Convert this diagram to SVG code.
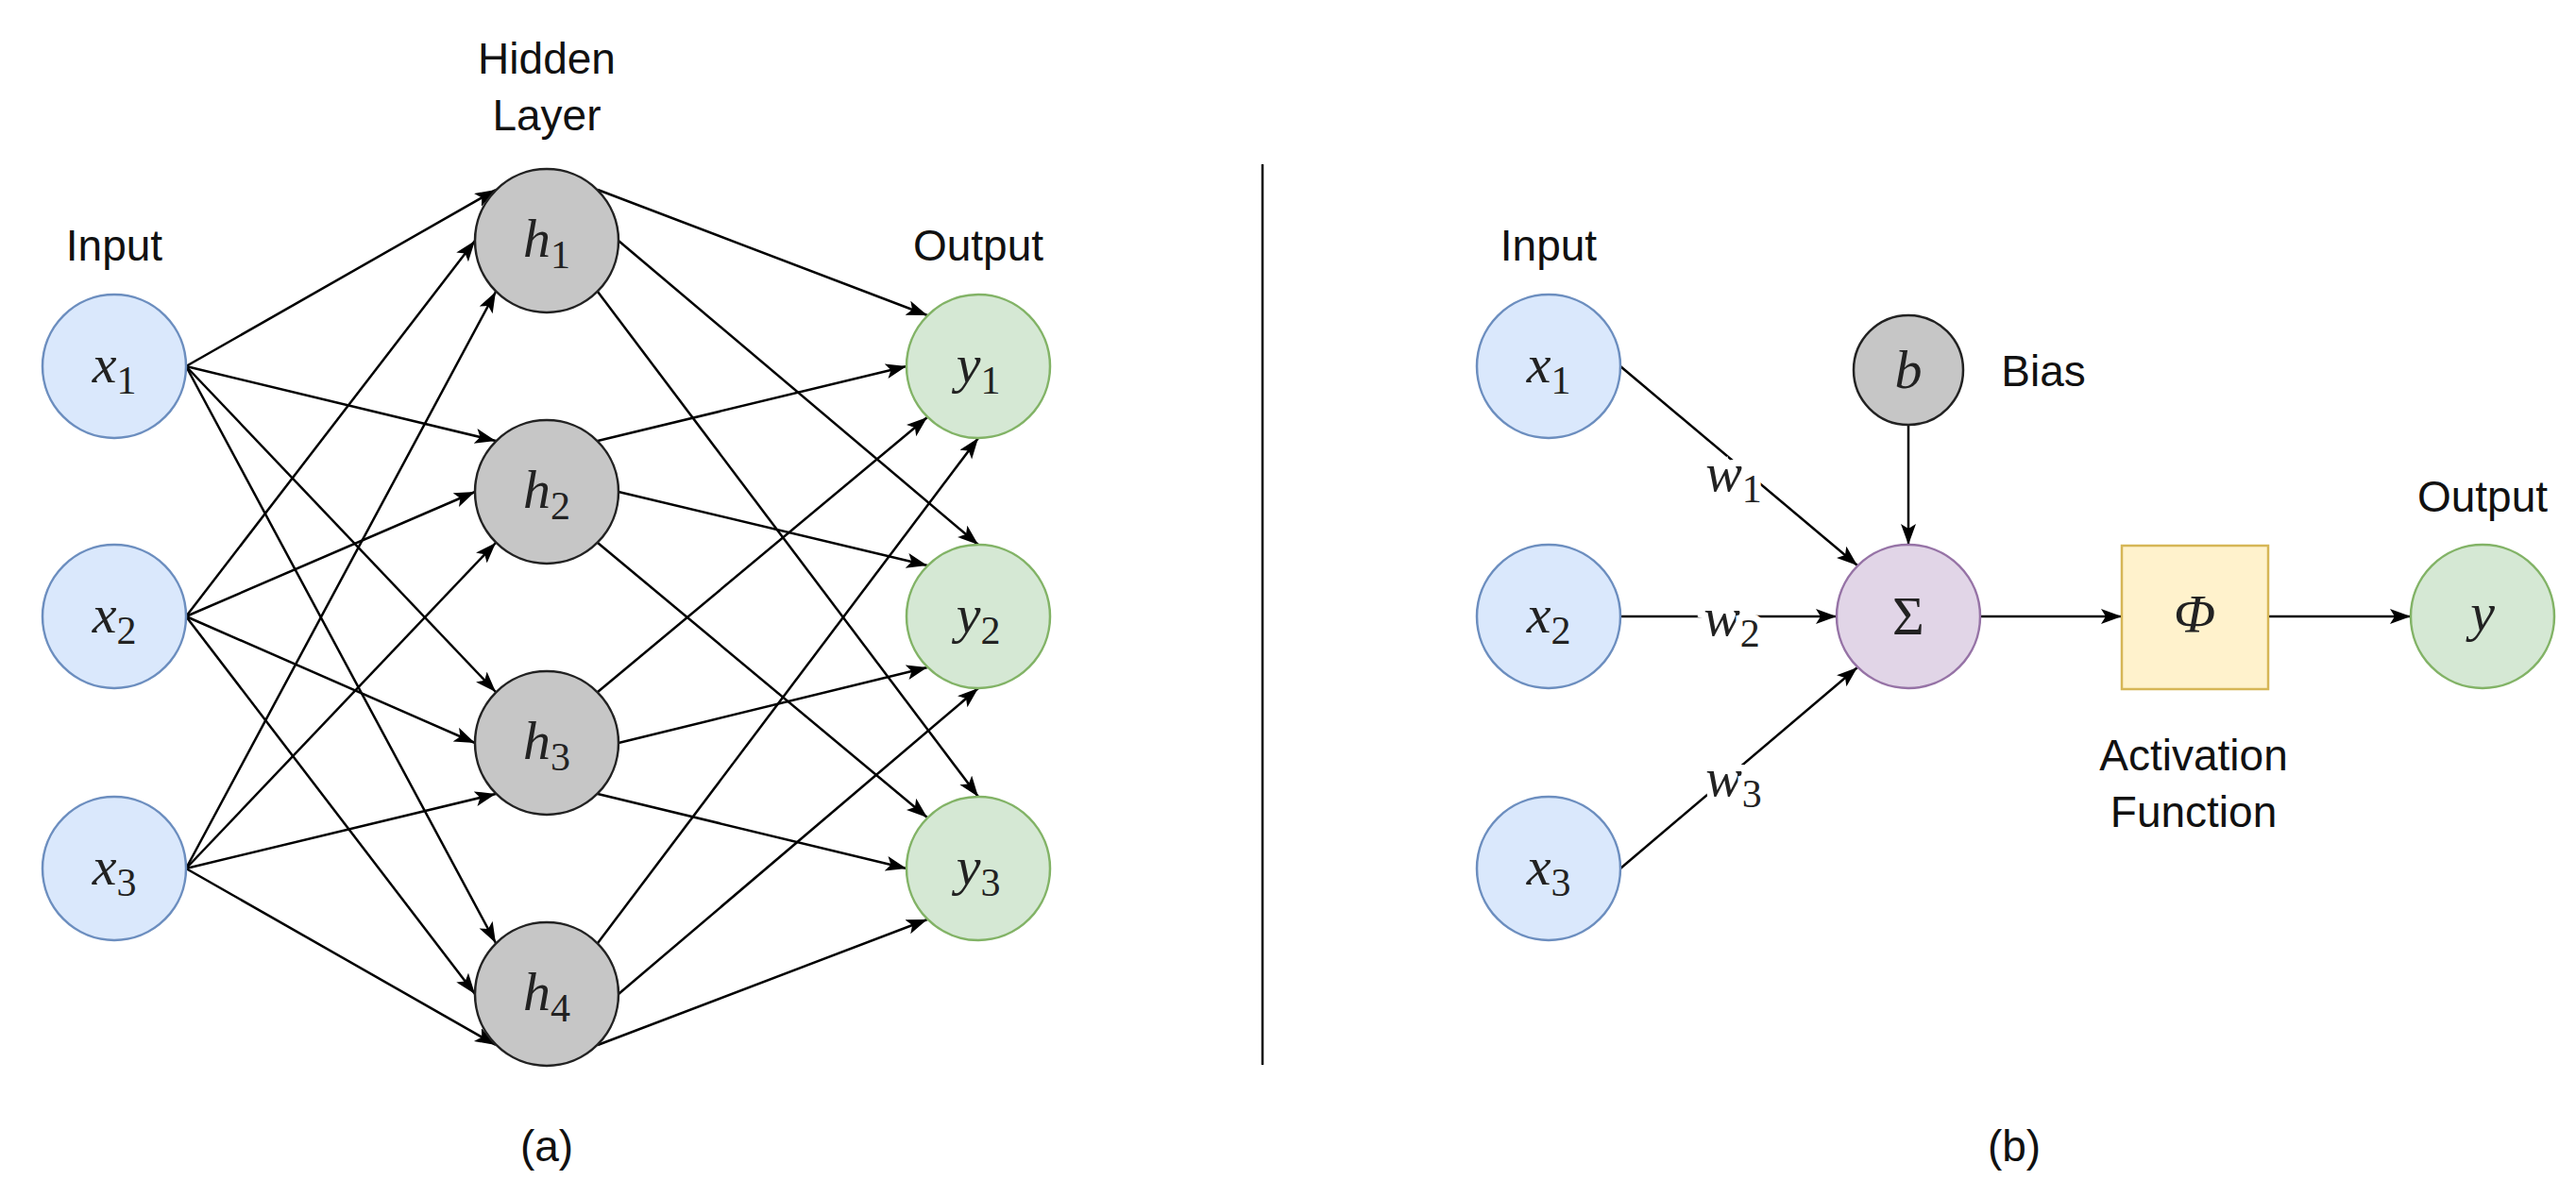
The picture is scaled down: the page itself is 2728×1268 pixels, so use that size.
<svg xmlns="http://www.w3.org/2000/svg" width="2728" height="1268" viewBox="0 0 2728 1268">
<style>
.lbl{font-family:"Liberation Sans",Arial,sans-serif;font-size:46px;fill:#111;text-anchor:middle}
.m{font-family:"Liberation Serif","Times New Roman",serif;font-style:italic;font-size:58px;fill:#222;text-anchor:middle}
.s{font-style:normal;font-size:42px}
.inp{fill:#dae8fc;stroke:#6c8ebf;stroke-width:2.5}
.hid{fill:#c6c6c6;stroke:#222;stroke-width:2.5}
.out{fill:#d5e8d4;stroke:#82b366;stroke-width:2.5}
.sum{fill:#e1d5e7;stroke:#9673a6;stroke-width:2.5}
.act{fill:#fff2cc;stroke:#d6b656;stroke-width:2.5}
.e line{stroke:#000;stroke-width:2.5;marker-end:url(#ah)}
.w{paint-order:stroke;stroke:#fff;stroke-width:14px}
</style>
<defs>
<marker id="ah" markerUnits="userSpaceOnUse" markerWidth="24" markerHeight="18" refX="22" refY="8" orient="auto">
<path d="M0,0 L22,8 L0,16 L5,8 z" fill="#000"/>
</marker>
</defs>
<rect width="2728" height="1268" fill="#fff"/>
<g id="connectors" class="e">
<line x1="197" y1="388" x2="525" y2="201"/><line x1="197" y1="388" x2="525" y2="467"/><line x1="197" y1="388" x2="525" y2="733"/><line x1="197" y1="388" x2="525" y2="999"/>
<line x1="197" y1="653" x2="503" y2="255"/><line x1="197" y1="653" x2="503" y2="521"/><line x1="197" y1="653" x2="503" y2="787"/><line x1="197" y1="653" x2="503" y2="1053"/>
<line x1="197" y1="920" x2="525" y2="309"/><line x1="197" y1="920" x2="525" y2="575"/><line x1="197" y1="920" x2="525" y2="841"/><line x1="197" y1="920" x2="525" y2="1107"/>
<line x1="633" y1="201" x2="982" y2="334"/><line x1="655" y1="255" x2="1036" y2="577"/><line x1="633" y1="309" x2="1036" y2="844"/>
<line x1="633" y1="467" x2="960" y2="388"/><line x1="655" y1="521" x2="982" y2="599"/><line x1="633" y1="575" x2="982" y2="866"/>
<line x1="633" y1="733" x2="982" y2="442"/><line x1="655" y1="787" x2="982" y2="707"/><line x1="633" y1="841" x2="960" y2="920"/>
<line x1="633" y1="999" x2="1036" y2="464"/><line x1="655" y1="1053" x2="1036" y2="729"/><line x1="633" y1="1107" x2="982" y2="974"/>
<line x1="1716" y1="388" x2="1967" y2="599"/><line x1="1716" y1="653" x2="1945" y2="653"/><line x1="1716" y1="920" x2="1967" y2="707"/>
<line x1="2021" y1="450" x2="2021" y2="577"/><line x1="2097" y1="653" x2="2247" y2="653"/><line x1="2402" y1="653" x2="2553" y2="653"/>
</g>
<line id="divider" x1="1337" y1="174" x2="1337" y2="1128" stroke="#000" stroke-width="2.5"/>
<g id="weights">
<text class="m w" x="1836" y="520">w<tspan class="s" dy="12">1</tspan></text>
<text class="m w" x="1834" y="673">w<tspan class="s" dy="12">2</tspan></text>
<text class="m w" x="1836" y="843">w<tspan class="s" dy="12">3</tspan></text>
</g>
<g id="a-x1"><circle class="inp" cx="121" cy="388" r="76"/><text class="m" x="121" y="405">x<tspan class="s" dy="12">1</tspan></text></g>
<g id="a-x2"><circle class="inp" cx="121" cy="653" r="76"/><text class="m" x="121" y="670">x<tspan class="s" dy="12">2</tspan></text></g>
<g id="a-x3"><circle class="inp" cx="121" cy="920" r="76"/><text class="m" x="121" y="937">x<tspan class="s" dy="12">3</tspan></text></g>
<g id="a-h1"><circle class="hid" cx="579" cy="255" r="76"/><text class="m" x="579" y="272">h<tspan class="s" dy="12">1</tspan></text></g>
<g id="a-h2"><circle class="hid" cx="579" cy="521" r="76"/><text class="m" x="579" y="538">h<tspan class="s" dy="12">2</tspan></text></g>
<g id="a-h3"><circle class="hid" cx="579" cy="787" r="76"/><text class="m" x="579" y="804">h<tspan class="s" dy="12">3</tspan></text></g>
<g id="a-h4"><circle class="hid" cx="579" cy="1053" r="76"/><text class="m" x="579" y="1070">h<tspan class="s" dy="12">4</tspan></text></g>
<g id="a-y1"><circle class="out" cx="1036" cy="388" r="76"/><text class="m" x="1036" y="405">y<tspan class="s" dy="12">1</tspan></text></g>
<g id="a-y2"><circle class="out" cx="1036" cy="653" r="76"/><text class="m" x="1036" y="670">y<tspan class="s" dy="12">2</tspan></text></g>
<g id="a-y3"><circle class="out" cx="1036" cy="920" r="76"/><text class="m" x="1036" y="937">y<tspan class="s" dy="12">3</tspan></text></g>
<g id="b-x1"><circle class="inp" cx="1640" cy="388" r="76"/><text class="m" x="1640" y="405">x<tspan class="s" dy="12">1</tspan></text></g>
<g id="b-x2"><circle class="inp" cx="1640" cy="653" r="76"/><text class="m" x="1640" y="670">x<tspan class="s" dy="12">2</tspan></text></g>
<g id="b-x3"><circle class="inp" cx="1640" cy="920" r="76"/><text class="m" x="1640" y="937">x<tspan class="s" dy="12">3</tspan></text></g>
<g id="b-bias"><circle class="hid" cx="2021" cy="392" r="58"/><text class="m" x="2021" y="411">b</text></g>
<g id="b-sum"><circle class="sum" cx="2021" cy="653" r="76"/><text class="m" style="font-style:normal" x="2021" y="672">Σ</text></g>
<g id="b-act"><rect class="act" x="2247" y="578" width="155" height="152"/><text class="m" x="2324" y="670">Φ</text></g>
<g id="b-y"><circle class="out" cx="2629" cy="653" r="76"/><text class="m" x="2629" y="668">y</text></g>
<g id="labels">
<text class="lbl" x="121" y="276">Input</text>
<text class="lbl" x="579" y="78">Hidden</text>
<text class="lbl" x="579" y="138">Layer</text>
<text class="lbl" x="1036" y="276">Output</text>
<text class="lbl" x="579" y="1230">(a)</text>
<text class="lbl" x="1640" y="276">Input</text>
<text class="lbl" x="2164" y="409">Bias</text>
<text class="lbl" x="2629" y="542">Output</text>
<text class="lbl" x="2323" y="816">Activation</text>
<text class="lbl" x="2323" y="876">Function</text>
<text class="lbl" x="2133" y="1230">(b)</text>
</g>
</svg>
